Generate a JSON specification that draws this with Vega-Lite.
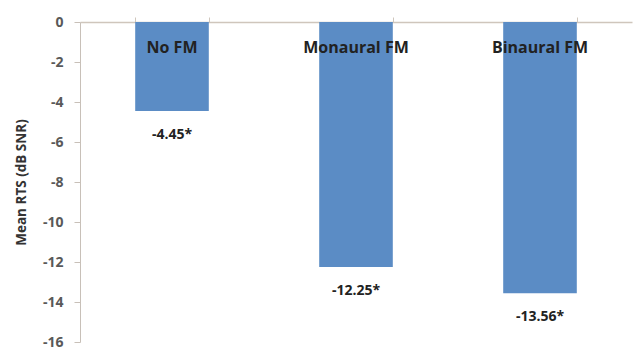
{
  "$schema": "https://vega.github.io/schema/vega-lite/v6.json",
  "width": 552,
  "height": 320,
  "autosize": {"type": "none"},
  "padding": {"left": 80, "top": 22, "right": 1, "bottom": 11},
  "background": "white",
  "config": {"view": {"stroke": null}, "font": "Open Sans"},
  "data": {"values": [
    {"group": "No FM", "rts": -4.45, "label": "-4.45*"},
    {"group": "Monaural FM", "rts": -12.25, "label": "-12.25*"},
    {"group": "Binaural FM", "rts": -13.56, "label": "-13.56*"}
  ]},
  "encoding": {
    "x": {"field": "group", "type": "nominal", "sort": null,
      "scale": {"paddingInner": 0.6, "paddingOuter": 0.3},
      "axis": {"orient": "top", "title": null, "labels": false, "tickBand": "extent",
        "domainColor": "#cfc6bc", "tickColor": "#cfc6bc", "tickSize": 5, "domainWidth": 1.5}},
    "y": {"field": "rts", "type": "quantitative",
      "scale": {"domain": [-16, 0], "nice": false},
      "axis": {"title": "Mean RTS (dB SNR)", "tickCount": 20, "values": [0, -2, -4, -6, -8, -10, -12, -14, -16],
        "labelOverlap": false, "labelExpr": "toString(datum.value)",
        "grid": false, "domainColor": "#c8c0b8", "tickColor": "#c8c0b8", "tickSize": 6,
        "labelPadding": 11, "labelFontSize": 14, "labelColor": "#595959", "labelFontWeight": "bold",
        "titleFontSize": 13.5, "titleFontWeight": "bold", "titleColor": "#333333", "titlePadding": 14}}
  },
  "layer": [
    {
      "mark": {"type": "bar", "color": "#5b8cc5"}
    },
    {
      "mark": {"type": "text", "fontSize": 16, "fontWeight": "bold", "color": "#222222", "baseline": "middle", "dy": 26},
      "encoding": {
        "y": {"datum": 0, "type": "quantitative"},
        "text": {"field": "group"}
      }
    },
    {
      "mark": {"type": "text", "fontSize": 14, "fontWeight": "bold", "color": "#222222", "baseline": "middle", "dy": 24},
      "encoding": {
        "text": {"field": "label"}
      }
    }
  ]
}
